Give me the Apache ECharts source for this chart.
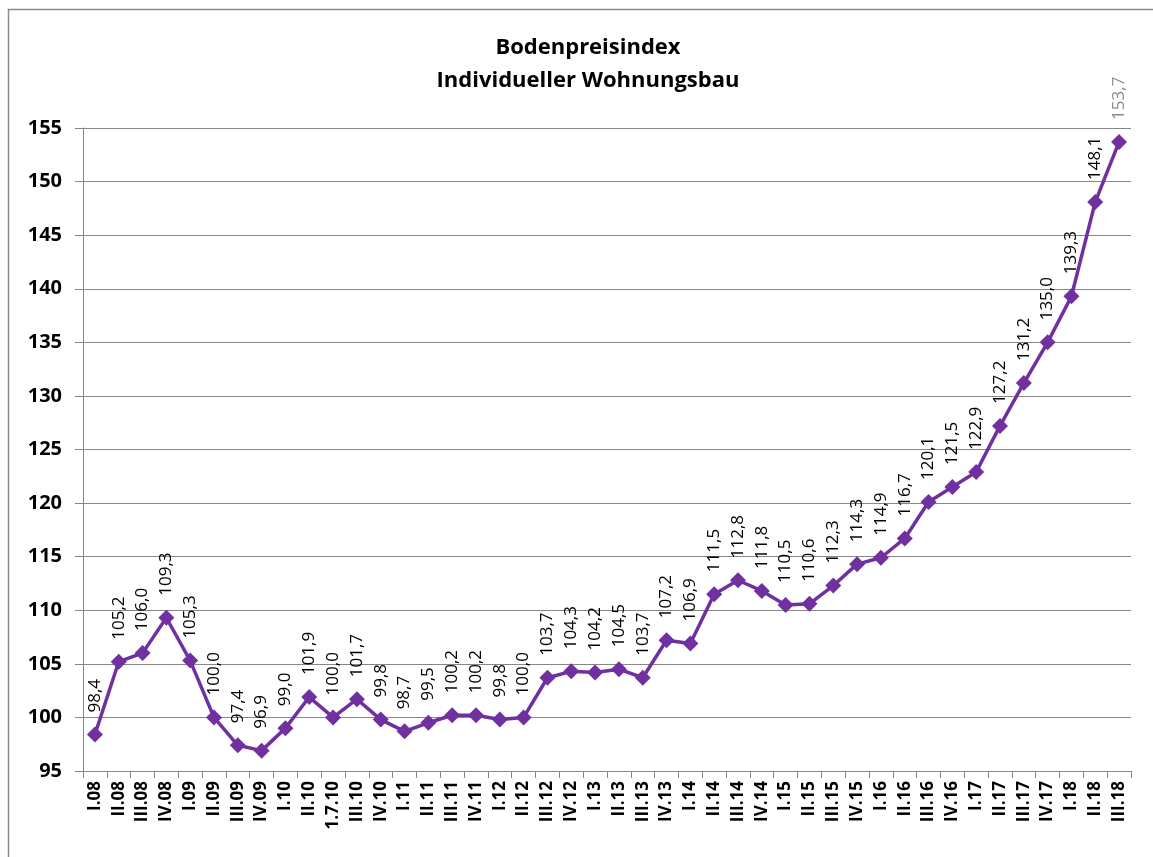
<!DOCTYPE html>
<html><head><meta charset="utf-8">
<script src="https://cdn.jsdelivr.net/npm/echarts@6/dist/echarts.min.js"></script>
<style>html,body{margin:0;padding:0;background:#fff}#c{width:1153px;height:857px}</style>
</head><body><div id="c"></div>
<script>
const titleLines = ['Bodenpreisindex', 'Individueller Wohnungsbau'];
const categories = ['I.08','II.08','III.08','IV.08','I.09','II.09','III.09','IV.09','I.10','II.10','1.7.10','III.10','IV.10','I.11','II.11','III.11','IV.11','I.12','II.12','III.12','IV.12','I.13','II.13','III.13','IV.13','I.14','II.14','III.14','IV.14','I.15','II.15','III.15','IV.15','I.16','II.16','III.16','IV.16','I.17','II.17','III.17','IV.17','I.18','II.18','III.18'];
const values = [98.4,105.2,106.0,109.3,105.3,100.0,97.4,96.9,99.0,101.9,100.0,101.7,99.8,98.7,99.5,100.2,100.2,99.8,100.0,103.7,104.3,104.2,104.5,103.7,107.2,106.9,111.5,112.8,111.8,110.5,110.6,112.3,114.3,114.9,116.7,120.1,121.5,122.9,127.2,131.2,135.0,139.3,148.1,153.7];
const yMin = 95, yMax = 155, yStep = 5;

const font = '"Open Sans", "Noto Sans", sans-serif';
const data = values.map((v, i) => i === values.length - 1
  ? { value: v, label: { color: '#8c8c8c' } }
  : v);

const chart = echarts.init(document.getElementById('c'), null, { renderer: 'canvas' });
chart.setOption({
  animation: false,
  backgroundColor: '#fff',
  graphic: [{
    type: 'rect', shape: { x: 8.5, y: 9.5, width: 1150, height: 860 },
    style: { fill: 'none', stroke: '#8a8a8a', lineWidth: 1.5 }, silent: true
  }],
  title: {
    text: titleLines.join('\n'),
    left: 583, textAlign: 'center', top: 26,
    textStyle: { fontFamily: font, fontSize: 22, fontWeight: 'bold', color: '#000', lineHeight: 33 }
  },
  grid: { left: 83, right: 22, top: 128, bottom: 86, containLabel: false },
  xAxis: {
    type: 'category', data: categories, boundaryGap: true,
    axisLine: { lineStyle: { color: '#868686', width: 1 } },
    axisTick: { show: true, length: 7, lineStyle: { color: '#868686' }, alignWithLabel: false },
    axisLabel: { rotate: 90, interval: 0, margin: 10, fontFamily: font, fontSize: 17, fontWeight: 'bold', color: '#000' },
    splitLine: { show: false }
  },
  yAxis: {
    type: 'value', min: yMin, max: yMax, interval: yStep,
    axisLine: { show: true, lineStyle: { color: '#868686' } },
    axisTick: { show: true, length: 8, lineStyle: { color: '#868686' } },
    axisLabel: { margin: 21, fontFamily: font, fontSize: 20, fontWeight: 'bold', color: '#000' },
    splitLine: { show: true, lineStyle: { color: '#868686', width: 1 } }
  },
  series: [{
    type: 'line', data: data,
    symbol: 'diamond', symbolSize: 16,
    lineStyle: { color: '#7030A0', width: 3.5 },
    itemStyle: { color: '#7030A0' },
    label: {
      show: true, position: 'top', distance: 14, rotate: 90,
      align: 'left', verticalAlign: 'middle',
      fontFamily: font, fontSize: 17, color: '#000',
      formatter: p => p.value.toFixed(1).replace('.', ',')
    }
  }]
});
</script></body></html>
